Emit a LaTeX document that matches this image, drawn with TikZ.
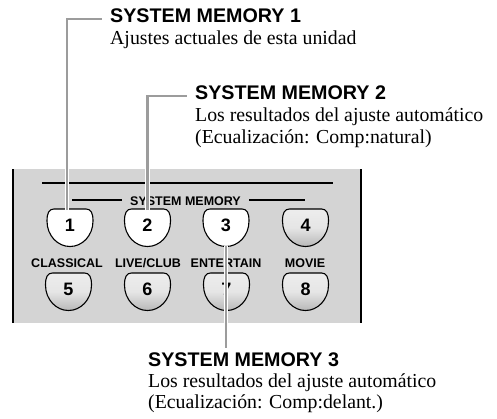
\documentclass[tikz,border=0pt]{standalone}
\usepackage{fontspec}
\setmainfont{Liberation Serif}
\setsansfont{Liberation Sans}
\usetikzlibrary{calc}
\definecolor{panelgray}{HTML}{D4D4D4}
\definecolor{leadgray}{HTML}{9C9C9C}
\tikzset{
  head/.style={inner xsep=8pt, inner ysep=0pt, anchor=base west, font=\fontsize{19.7}{22}\selectfont\sffamily\bfseries},
  desc/.style={inner sep=0pt, anchor=base west, font=\fontsize{19.8}{22}\selectfont},
  plabel/.style={inner sep=0pt, anchor=base, font=\fontsize{12.5}{14}\selectfont\sffamily\bfseries},
  digit/.style={inner sep=0pt, font=\fontsize{18}{19}\selectfont\sffamily\bfseries},
  btnwhite/.style={draw=black, line width=1.1pt, fill=white},
  btngray/.style={draw=black, line width=1.1pt, top color=black!7, bottom color=black!28, middle color=black!10},
  leader/.style={draw=white, double=leadgray, double distance=2.4pt, line width=0.9pt},
  rule/.style={draw=black, line width=1.4pt}
}
\newcommand\mybutton[5]{% name, cx, top, style, digit
  \begin{scope}[shift={(#2,#3)}]
    \path[#4] (-16,0) -- (16,0) .. controls (21,0) and (23,4) .. (23,12)
      .. controls (23,27) and (12,37.5) .. (0,37.5)
      .. controls (-12,37.5) and (-23,27) .. (-23,12)
      .. controls (-23,4) and (-21,0) .. (-16,0) -- cycle;
    \node[digit] (#1) at (0,16.5) {#5};
    \coordinate (#1t) at (0,1);
    \coordinate (#1b) at (0,37);
  \end{scope}}
\begin{document}
\begin{tikzpicture}[x=1pt, y=-1pt]
\useasboundingbox (0,0) rectangle (497,418);
% panel
\fill[panelgray] (12,169) rectangle (362,323);
\draw[black, line width=2.5pt] (13,169) -- (13,323);
\draw[black, line width=2.5pt] (361,169) -- (361,323);
\draw[rule] (42,183) -- (333,183);
\node[plabel, inner xsep=8pt] (smm) at (185.5,205) {SYSTEM MEMORY};
\coordinate (rl) at (72,200);
\coordinate (rr) at (305,200);
\draw[rule] (rl) -- (rl -| smm.west);
\draw[rule] (rr -| smm.east) -- (rr);
% buttons row 1
\mybutton{b1}{70}{209}{btnwhite}{1}
\mybutton{b2}{147.5}{209}{btnwhite}{2}
\mybutton{b3}{226}{209}{btnwhite}{3}
\mybutton{b4}{305.5}{209}{btngray}{4}
% labels row 2
\node[plabel] (l5) at (67,267) {CLASSICAL};
\node[plabel] (l6) at (148,267) {LIVE/CLUB};
\node[plabel] (l7) at (226,267) {ENTERTAIN};
\node[plabel] (l8) at (305,267) {MOVIE};
% buttons row 2
\mybutton{b5}{68.5}{273}{btngray}{5}
\mybutton{b6}{147.5}{273}{btngray}{6}
\mybutton{b7}{226.5}{273}{btngray}{7}
\mybutton{b8}{305.5}{273}{btngray}{8}
% texts
\node[head] (sm1) at (102,22) {SYSTEM MEMORY 1};
\node[desc] (d1) at (110,44) {Ajustes actuales de esta unidad};
\node[head] (sm2) at (187,99) {SYSTEM MEMORY 2};
\node[desc] (d2a) at (195,121) {Los resultados del ajuste automático};
\node[desc] (d2b) at (195,143) {(Ecualización: Comp:natural)};
\node[head] (sm3) at (140,366) {SYSTEM MEMORY 3};
\node[desc] (d3a) at (148,387) {Los resultados del ajuste automático};
\node[desc] (d3b) at (148,408) {(Ecualización: Comp:delant.)};
% leaders
\coordinate (c1) at ($(sm1.west)+(0,4)$);
\coordinate (c2) at ($(sm2.west)+(0,4)$);
\draw[leader] ($(b1t)+(-3,0)$) |- (c1);
\draw[leader] (b2t) |- (c2);
\draw[leader] (b3b) -- ($(b3b |- sm3.north)+(0,-4)$);
\end{tikzpicture}
\end{document}
